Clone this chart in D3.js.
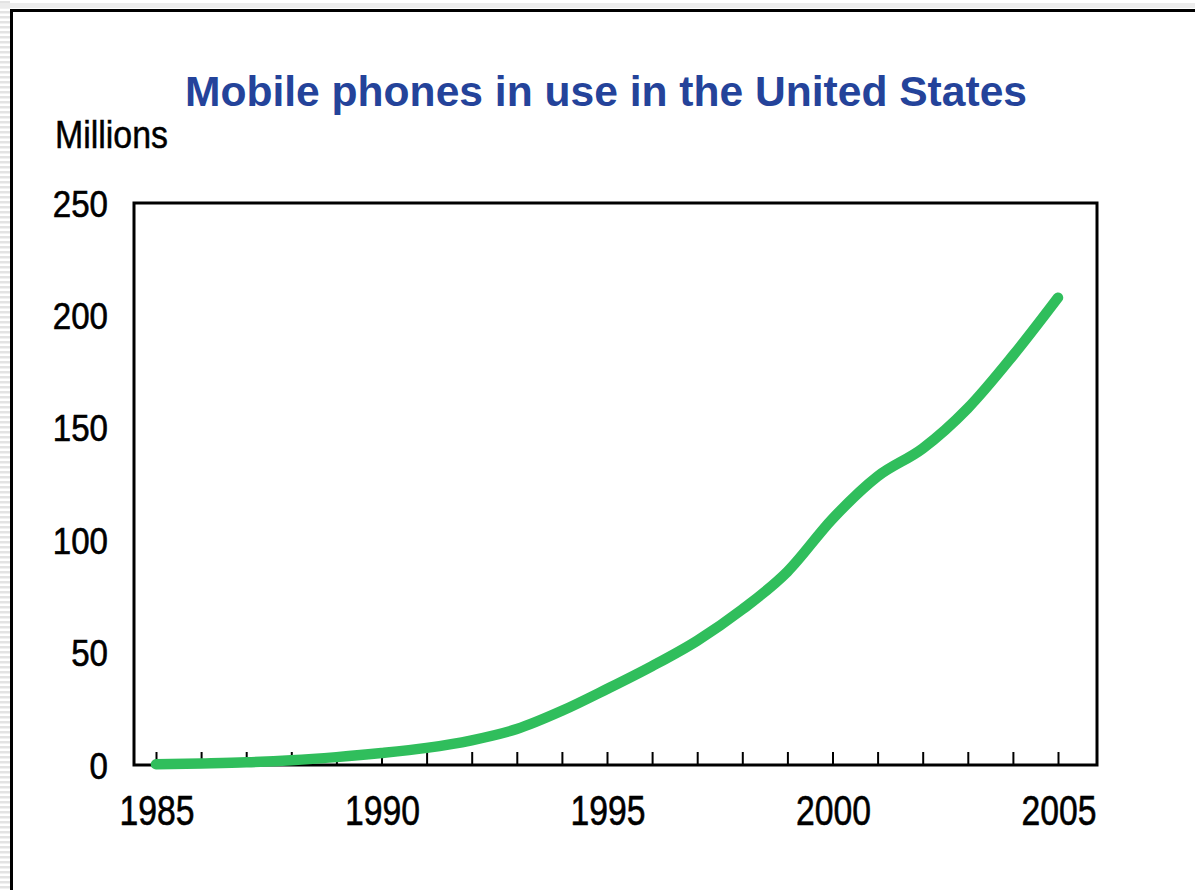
<!DOCTYPE html>
<html>
<head>
<meta charset="utf-8">
<script src="https://cdn.jsdelivr.net/npm/d3@7/dist/d3.min.js"></script>
<style>
  html, body { margin: 0; padding: 0; background: #fff; }
  svg { display: block; }
</style>
</head>
<body>
<div id="chart"></div>
<script>
/* ---------- data ---------- */
const years = [1985, 1986, 1987, 1988, 1989, 1990, 1991, 1992, 1993, 1994, 1995,
               1996, 1997, 1998, 1999, 2000, 2001, 2002, 2003, 2004, 2005];
const subscribers = [0.3, 0.7, 1.2, 2.1, 3.5, 5.3, 7.6, 11.0, 16.0, 24.1, 33.8,
                     44.0, 55.3, 69.2, 86.0, 109.5, 128.4, 140.8, 158.7, 182.1, 207.9];
const yTicks = [0, 50, 100, 150, 200, 250];
const xLabelYears = [1985, 1990, 1995, 2000, 2005];

const titleText = 'Mobile phones in use in the United States';
const unitText = 'Millions';

/* ---------- layout ---------- */
const W = 1195, H = 890;
const plot = { left: 134, right: 1097, top: 203, bottom: 765 };

const svg = d3.select('#chart').append('svg')
  .attr('width', W)
  .attr('height', H)
  .attr('viewBox', `0 0 ${W} ${H}`);

// page chrome: striped left margin, thin top strip, frame
const defs = svg.append('defs');
const pat = defs.append('pattern')
  .attr('id', 'stripes')
  .attr('width', 10).attr('height', 5)
  .attr('patternUnits', 'userSpaceOnUse');
pat.append('rect').attr('width', 10).attr('height', 5).attr('fill', '#fff');
pat.append('rect').attr('y', 1).attr('width', 10).attr('height', 2.5).attr('fill', '#e3e3e3');

svg.append('rect').attr('x', 0).attr('y', 0).attr('width', 10).attr('height', H).attr('fill', 'url(#stripes)');
svg.append('rect').attr('x', 0).attr('y', 3).attr('width', W).attr('height', 5).attr('fill', '#ececec');
svg.append('rect')
  .attr('x', 11.5).attr('y', 10.5)
  .attr('width', W + 20).attr('height', H + 20)
  .attr('fill', '#fff')
  .attr('stroke', '#000')
  .attr('stroke-width', 3);

/* ---------- scales ---------- */
const x = d3.scaleLinear().domain([1985, 2005]).range([156, 1058]);
const y = d3.scaleLinear().domain([0, 250]).range([plot.bottom, plot.top]);

const FONT = 'Arial, "Liberation Sans", Helvetica, sans-serif';

// title + unit label
svg.append('text')
  .attr('x', 185).attr('y', 106)
  .attr('font-family', FONT)
  .attr('font-weight', 'bold')
  .attr('font-size', 42)
  .attr('fill', '#24439a')
  .attr('textLength', 842)
  .attr('lengthAdjust', 'spacingAndGlyphs')
  .text(titleText);

svg.append('text')
  .attr('x', 55).attr('y', 148)
  .attr('font-family', FONT)
  .attr('font-size', 39)
  .attr('fill', '#000')
  .attr('stroke', '#000')
  .attr('stroke-width', 0.5)
  .attr('textLength', 113)
  .attr('lengthAdjust', 'spacingAndGlyphs')
  .text(unitText);

// plot frame (top/right thinner, left/bottom axes heavier)
svg.append('rect')
  .attr('x', plot.left).attr('y', plot.top)
  .attr('width', plot.right - plot.left)
  .attr('height', plot.bottom - plot.top)
  .attr('fill', 'none')
  .attr('stroke', '#000')
  .attr('stroke-width', 3);

/* ---------- axes ---------- */
const xAxis = d3.axisBottom(x)
  .tickValues(years)
  .tickSize(-13)
  .tickPadding(0)
  .tickFormat(d => xLabelYears.includes(d) ? String(d) : '');

const gx = svg.append('g')
  .attr('transform', `translate(0,${plot.bottom})`)
  .call(xAxis);
gx.select('.domain').remove();
gx.selectAll('.tick line').attr('stroke', '#000').attr('stroke-width', 2);
gx.selectAll('.tick text')
  .attr('y', 60)
  .attr('dy', 0)
  .attr('font-family', FONT)
  .attr('font-size', 42)
  .attr('fill', '#000')
  .attr('stroke', '#000')
  .attr('stroke-width', 0.6)
  .attr('text-anchor', 'start')
  .attr('x', -37)
  .attr('textLength', d => xLabelYears.includes(d) ? 75 : null)
  .attr('lengthAdjust', 'spacingAndGlyphs');

const yAxis = d3.axisLeft(y)
  .tickValues(yTicks)
  .tickSize(0)
  .tickFormat(d => String(d));

const gy = svg.append('g')
  .attr('transform', `translate(${plot.left},0)`)
  .call(yAxis);
gy.select('.domain').remove();
gy.selectAll('.tick text')
  .attr('font-family', FONT)
  .attr('font-size', 36)
  .attr('fill', '#000')
  .attr('stroke', '#000')
  .attr('stroke-width', 0.6)
  .attr('text-anchor', 'start')
  .attr('dy', 0)
  .attr('y', 13)
  .attr('x', d => -26 - String(d).length * 18.4)
  .attr('textLength', d => String(d).length * 18.4)
  .attr('lengthAdjust', 'spacingAndGlyphs');

/* ---------- series ---------- */
const line = d3.line()
  .x((d, i) => x(years[i]))
  .y(d => y(d))
  .curve(d3.curveMonotoneX);

svg.append('path')
  .datum(subscribers)
  .attr('d', line)
  .attr('fill', 'none')
  .attr('stroke', '#30be5c')
  .attr('stroke-width', 10.5)
  .attr('stroke-linecap', 'round')
  .attr('stroke-linejoin', 'round');
</script>
</body>
</html>
